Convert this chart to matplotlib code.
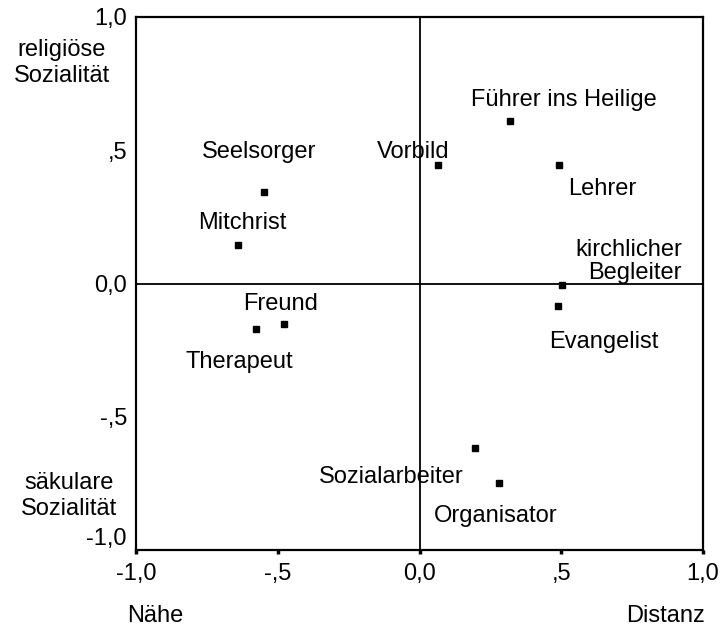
import matplotlib
matplotlib.use('Agg')
import matplotlib.pyplot as plt
from matplotlib.transforms import ScaledTranslation

plt.rcParams['font.family'] = ['Liberation Sans', 'DejaVu Sans']

# role positions on the two dimensions
roles = ['Führer ins Heilige', 'Lehrer', 'Vorbild', 'Seelsorger', 'Mitchrist',
         'kirchlicher\nBegleiter', 'Evangelist', 'Freund', 'Therapeut',
         'Sozialarbeiter', 'Organisator']
distanz = [0.319, 0.492, 0.064, -0.550, -0.640, 0.502, 0.487, -0.479, -0.576, 0.196, 0.279]
sozialitaet = [0.611, 0.445, 0.445, 0.344, 0.143, -0.007, -0.084, -0.152, -0.172, -0.618, -0.747]

tick_vals = [-1.0, -0.5, 0.0, 0.5, 1.0]
tick_labels = ['-1,0', '-,5', '0,0', ',5', '1,0']

# label placement (pixel offsets from the point, alignment)
label_offsets = [(54, 15), (9, -30), (-24, 7), (-4, 34), (4, 16), (120, 6),
                 (46, -42), (-3, 14), (-17, -39), (-84, -35), (-3, -39)]
label_ha = ['center', 'left', 'center', 'center', 'center', 'right',
            'center', 'center', 'center', 'center', 'center']

fs = 17
fig = plt.figure(figsize=(7.23, 6.28), dpi=100)
ax = fig.add_axes([136 / 723, 1 - 550 / 628, 567 / 723, 533 / 628])

ax.axhline(0, color='black', lw=1.3, zorder=1)
ax.axvline(0, color='black', lw=1.3, zorder=1)
ax.plot(distanz, sozialitaet, 's', color='black', markersize=4.3, zorder=3)

for name, x, y, off, ha in zip(roles, distanz, sozialitaet, label_offsets, label_ha):
    ax.annotate(name, (x, y), xytext=off, textcoords='offset pixels',
                ha=ha, va='baseline', fontsize=fs, multialignment=ha,
                linespacing=1.06)

ax.set_xlim(-1, 1)
ax.set_ylim(-1, 1)
ax.set_xticks(tick_vals, tick_labels)
ax.set_yticks(tick_vals, tick_labels)
ax.tick_params(axis='x', direction='out', length=3, width=2.5, pad=6.5, labelsize=fs)
ax.tick_params(axis='y', length=0, pad=6.5, labelsize=fs)
for s in ax.spines.values():
    s.set_linewidth(1.6)

# shift the lowest y label up, as in the original
lab = ax.get_yticklabels()[0]
lab.set_transform(lab.get_transform() + ScaledTranslation(0, 0.13, fig.dpi_scale_trans))

fig.text(62 / 723, 1 - 82 / 628, 'religiöse\nSozialität', ha='center', va='baseline',
         fontsize=fs, linespacing=1.25)
fig.text(69 / 723, 1 - 515 / 628, 'säkulare\nSozialität', ha='center', va='baseline',
         fontsize=fs, linespacing=1.25)
fig.text(155 / 723, 1 - 622 / 628, 'Nähe', ha='center', va='baseline', fontsize=fs)
fig.text(665 / 723, 1 - 622 / 628, 'Distanz', ha='center', va='baseline', fontsize=fs)

fig.savefig('out.png', dpi=100)
